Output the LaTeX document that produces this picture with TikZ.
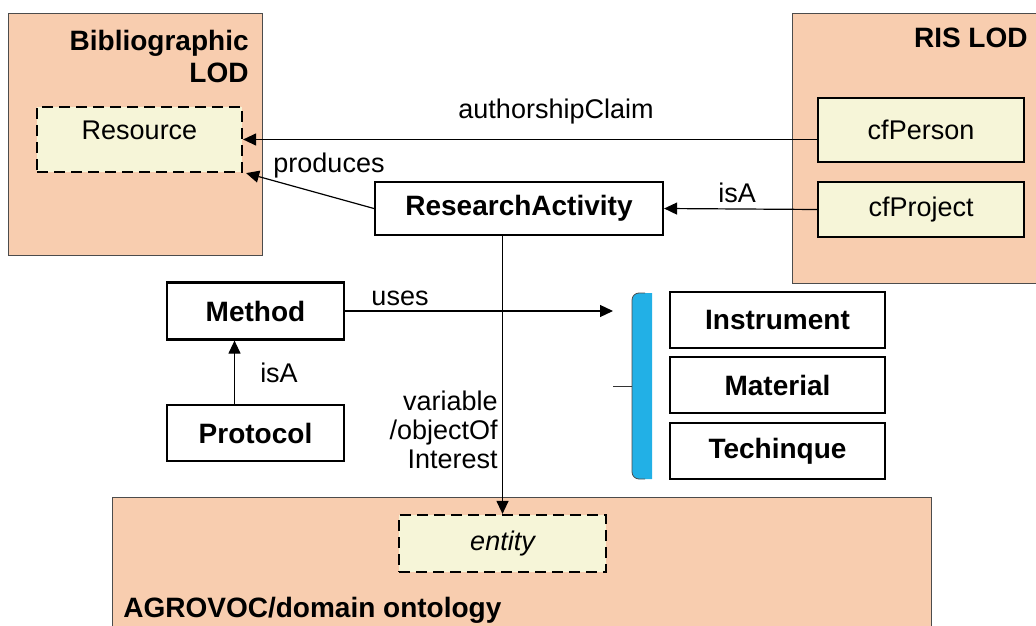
\documentclass[tikz,border=0pt]{standalone}
\usepackage{fontspec}
\setmainfont{Liberation Sans}
\usetikzlibrary{arrows.meta}

\definecolor{peach}{HTML}{F8CDAF}
\definecolor{cream}{HTML}{F6F5D8}
\definecolor{bracecol}{HTML}{22B0E6}

\begin{document}
\begin{tikzpicture}[x=0.5pt,y=-0.5pt,
  every node/.style={font=\fontsize{13.5}{16}\selectfont},
  lod_box/.style={draw=black!70,fill=peach,inner sep=0pt},
  class_box/.style={draw,line width=1.1pt,fill=white,inner sep=0pt,font=\fontsize{14}{16}\selectfont\bfseries},
  ext_box/.style={draw,line width=1.1pt,fill=cream,inner sep=0pt},
  abs_box/.style={draw,line width=1.1pt,dashed,dash pattern=on 5.5pt off 3pt,fill=cream,inner sep=0pt},
  link/.style={semithick,-{Triangle[length=6.5pt,width=6pt]}}]

    \clip (0,0) rectangle (1036,625);

    % the three LOD groups
    \node[lod_box,minimum width=127pt,minimum height=121pt] (bib) at (135,134) {};
    \node[anchor=north east,align=right,inner sep=0pt,font=\fontsize{14}{16}\selectfont\bfseries] (bibname) at (249,30) {Bibliographic\\LOD};
    \node[lod_box,minimum width=124pt,minimum height=135pt] (ris) at (916,148) {};
    \node[anchor=base east,inner sep=0pt,font=\fontsize{14}{16}\selectfont\bfseries] (risname) at (1028,48) {RIS LOD};
    \node[lod_box,minimum width=409.5pt,minimum height=91.5pt] (agro) at (521.5,588.5) {};
    \node[anchor=base west,inner sep=0pt,font=\fontsize{14}{16}\selectfont\bfseries] (agroname) at (123,617) {AGROVOC/domain ontology};

    \node[abs_box,minimum width=102.5pt,minimum height=32.5pt,text depth=9pt] (res) at (139.5,139.5) {Resource};
    \node[ext_box,minimum width=103pt,minimum height=32pt] (cfp) at (921,130) {cfPerson};
    \node[ext_box,minimum width=103pt,minimum height=27.5pt] (cfj) at (921,209.5) {cfProject};
    \node[abs_box,minimum width=103.5pt,minimum height=28.5pt,font=\fontsize{13.5}{16}\selectfont\itshape] (ent) at (502.5,543.5) {entity};

    \node[class_box,minimum width=144pt,minimum height=26.5pt] (ra) at (519,208.5) {ResearchActivity};
    \node[class_box,minimum width=88.5pt,minimum height=28.5pt] (meth) at (255.5,311) {Method};
    \node[class_box,minimum width=88.5pt,minimum height=28pt] (prot) at (255.5,433) {Protocol};
    \node[class_box,minimum width=107.5pt,minimum height=28pt] (instr) at (777.5,320) {Instrument};
    \node[class_box,minimum width=107.5pt,minimum height=28pt] (mat) at (777.5,385) {Material};
    \node[class_box,minimum width=107.5pt,minimum height=28pt] (tech) at (777.5,451) {Techinque};

    % bracket
    \fill[bracecol] (652,293) -- (639,293) to[out=180,in=90] (632,300) -- (632,472) to[out=-90,in=180] (639,479) -- (652,479) -- cycle;
    \draw[black!70] (645,293) -- (639,293) to[out=180,in=90] (632,300) -- (632,472) to[out=-90,in=180] (639,479) -- (645,479);
    \coordinate (brk) at (613,312);
    \coordinate (brk_tip) at (632,386);
    \draw[black!80] (brk_tip) -- ++(-19,0);

    \draw[link] (cfp.west |- res.east) -- (res.east);
    \draw[link] (ra.west) -- ([xshift=1.5pt]res.south east);
    \draw[link] (cfj.west) -- (ra.east);
    \draw[link] (ra.south -| ent.north) -- (ent.north);
    \draw[link] (meth.east) -- (meth.east -| brk);
    \draw[link] ([xshift=-10.5pt]prot.north) -- ([xshift=-10.5pt]meth.south);

    \node (l_auth) at (556,112) {authorshipClaim};
    \node (l_prod) at (329,166) {produces};
    \node (l_isa1) at (737,193) {isA};
    \node (l_uses) at (400,298) {uses};
    \node (l_isa2) at (279,373) {isA};
    \node[anchor=east,align=right,inner sep=0pt,font=\fontsize{13.5}{14.5}\selectfont] (l_var) at (498,430) {variable\\/objectOf\\Interest};
\end{tikzpicture}
\end{document}
